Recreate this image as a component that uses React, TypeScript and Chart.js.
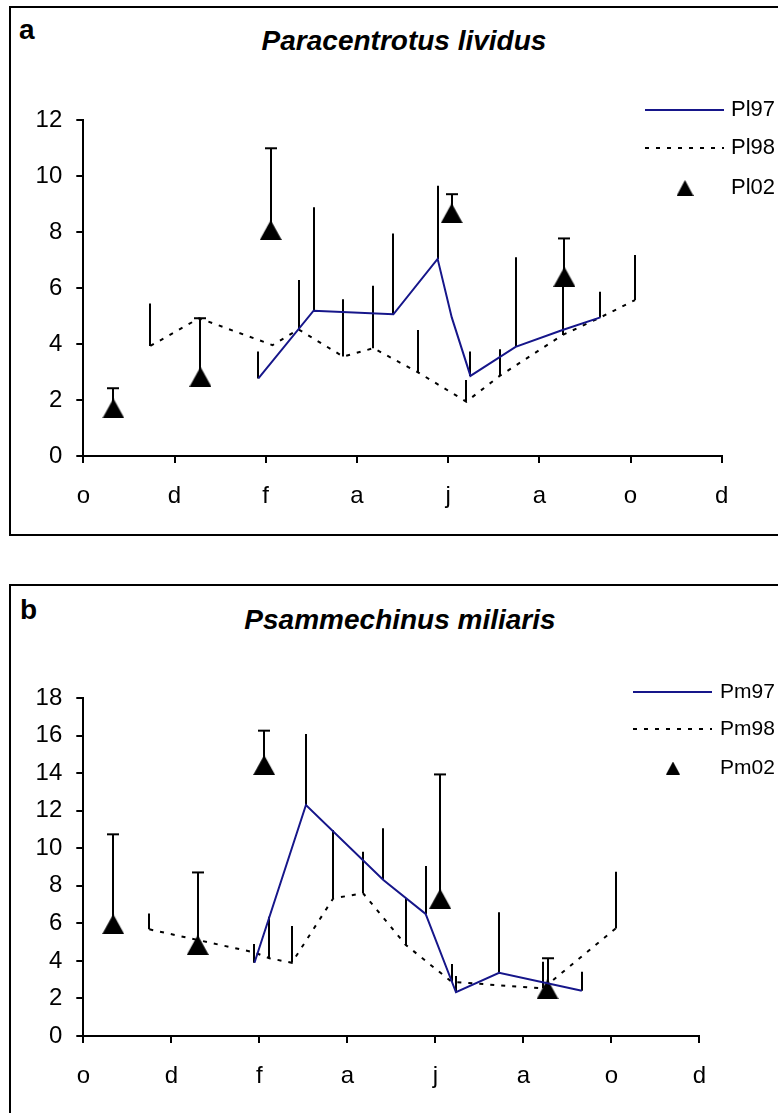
import React, { useEffect, useRef } from 'react';
import { Chart, registerables } from 'chart.js';

Chart.register(...registerables);

// ---- axis ticks (months) ----
const monthTicks = [0, 2, 4, 6, 8, 10, 12, 14];
const monthLabels = ['o', 'd', 'f', 'a', 'j', 'a', 'o', 'd'];

// ---- Panel a: Paracentrotus lividus ----
const pl97X = [3.84, 5.05, 6.8, 7.77, 8.08, 8.49, 9.48, 10.51, 11.34];
const pl97Y = [2.77, 5.19, 5.06, 7.04, 4.95, 2.86, 3.9, 4.5, 4.95];
const pl97Up = [3.73, 8.88, 7.95, 9.65, null, 3.73, 7.1, null, 5.87];

const pl98X = [1.47, 2.54, 4.15, 4.72, 5.7, 6.36, 7.35, 8.4, 9.13, 10.51, 11.34, 12.1];
const pl98Y = [3.93, 4.92, 3.96, 4.52, 3.55, 3.85, 2.98, 1.94, 2.86, 4.32, 4.95, 5.57];
const pl98Up = [5.45, null, null, 6.29, 5.6, 6.08, 4.5, 2.71, 3.81, 6.4, null, 7.18];

const pl02X = [0.66, 2.57, 4.11, 8.08, 10.55];
const pl02Y = [1.7, 2.83, 8.07, 8.67, 6.4];
const pl02Up = [2.42, 4.92, 10.99, 9.35, 7.77];

// ---- Panel b: Psammechinus miliaris ----
const pm97X = [3.89, 5.06, 6.82, 7.78, 8.47, 9.45, 11.33];
const pm97Y = [3.9, 12.3, 8.31, 6.5, 2.33, 3.37, 2.41];
const pm97Up = [4.9, 16.08, 11.06, 9.05, 3.19, 6.59, 3.42];

const pm98X = [1.5, 3.89, 4.23, 4.74, 5.68, 6.36, 7.33, 8.37, 9.45, 10.45, 12.1];
const pm98Y = [5.68, 4.45, 4.14, 3.9, 7.33, 7.6, 4.85, 2.89, 2.7, 2.54, 5.73];
const pm98Up = [6.53, null, 6.35, 5.86, 10.97, 9.81, 7.33, 3.83, null, 3.96, 8.75];

const pm02X = [0.68, 2.6, 4.11, 8.11, 10.55];
const pm02Y = [5.96, 4.85, 14.43, 7.31, 2.49];
const pm02Up = [10.74, 8.71, 16.26, 13.93, 4.14];

const FONT = '"Liberation Sans", Arial, Helvetica, sans-serif';
const BLUE = '#16168a';

function pts(xs: number[], ys: number[]) {
  return xs.map((x, i) => ({ x, y: ys[i] }));
}

function makeTriangle(w: number, h: number) {
  const c = document.createElement('canvas');
  c.width = w;
  c.height = h;
  const g = c.getContext('2d')!;
  g.fillStyle = '#000';
  g.beginPath();
  g.moveTo(w / 2, 0);
  g.lineTo(w, h);
  g.lineTo(0, h);
  g.closePath();
  g.fill();
  return c;
}

const errorBarPlugin = {
  id: 'errorBars',
  beforeDatasetsDraw(chart: any) {
    const { ctx } = chart;
    const xs = chart.scales.x;
    const ys = chart.scales.y;
    ctx.save();
    chart.data.datasets.forEach((ds: any) => {
      if (!ds.errUp) return;
      ds.data.forEach((p: any, i: number) => {
        const up = ds.errUp[i];
        if (up == null) return;
        const px = Math.round(xs.getPixelForValue(p.x));
        const py0 = ys.getPixelForValue(p.y);
        const py1 = ys.getPixelForValue(up);
        ctx.strokeStyle = '#000';
        ctx.lineWidth = 2;
        ctx.setLineDash([]);
        ctx.beginPath();
        ctx.moveTo(px, py0);
        ctx.lineTo(px, py1);
        ctx.stroke();
        if (ds.errCap) {
          ctx.beginPath();
          ctx.moveTo(px - 6, py1);
          ctx.lineTo(px + 6, py1);
          ctx.stroke();
        }
      });
    });
    ctx.restore();
  },
};

function makeLegendPlugin(spec: any) {
  return {
    id: 'sideLegend',
    afterDraw(chart: any) {
      const ctx = chart.ctx;
      ctx.save();
      chart.data.datasets.forEach((ds: any, i: number) => {
        const yy = spec.rows[i];
        if (ds.showLine) {
          ctx.strokeStyle = ds.borderColor;
          ctx.lineWidth = ds.borderWidth;
          ctx.setLineDash(ds.borderDash || []);
          ctx.beginPath();
          ctx.moveTo(spec.x0, yy);
          ctx.lineTo(spec.x1, yy);
          ctx.stroke();
        } else {
          const m = spec.marker;
          ctx.drawImage(m, spec.mx - m.width / 2, yy - m.height / 2);
        }
        ctx.setLineDash([]);
        ctx.fillStyle = '#000';
        ctx.font = spec.font;
        ctx.textBaseline = 'middle';
        ctx.textAlign = 'left';
        ctx.fillText(ds.label, spec.tx, yy);
      });
      ctx.restore();
    },
  };
}

function makeConfig(opts: any) {
  const marker = makeTriangle(22, 20);
  return {
    type: 'scatter',
    data: {
      datasets: [
        {
          label: opts.names[0],
          data: pts(opts.l1x, opts.l1y),
          errUp: opts.l1u,
          showLine: true,
          borderColor: BLUE,
          borderWidth: 2,
          pointRadius: 0,
          tension: 0,
        },
        {
          label: opts.names[1],
          data: pts(opts.l2x, opts.l2y),
          errUp: opts.l2u,
          showLine: true,
          borderColor: '#000',
          borderWidth: 2,
          borderDash: [4, 7],
          pointRadius: 0,
          tension: 0,
        },
        {
          label: opts.names[2],
          data: pts(opts.tx, opts.ty),
          errUp: opts.tu,
          errCap: true,
          showLine: false,
          pointStyle: marker,
          pointRadius: 11,
          backgroundColor: '#000',
          borderColor: '#000',
        },
      ],
    },
    options: {
      animation: false,
      responsive: false,
      devicePixelRatio: 1,
      layout: { padding: { left: 0, top: opts.top, right: opts.right, bottom: 0 } },
      plugins: {
        legend: { display: false },
        title: { display: false },
        tooltip: { enabled: false },
      },
      scales: {
        x: {
          type: 'linear',
          min: 0,
          max: 14,
          afterBuildTicks(s: any) {
            s.ticks = monthTicks.map((v) => ({ value: v }));
          },
          afterFit(s: any) {
            s.height = opts.xh;
          },
          ticks: {
            color: '#000',
            font: { family: FONT, size: 24 },
            padding: 19,
            maxRotation: 0,
            autoSkip: false,
            callback: (v: number) => monthLabels[monthTicks.indexOf(v)],
          },
          grid: { drawOnChartArea: false, drawTicks: true, tickLength: 7, color: '#000', lineWidth: 2 },
          border: { display: true, color: '#000', width: 2 },
        },
        y: {
          type: 'linear',
          min: 0,
          max: opts.ymax,
          afterFit(s: any) {
            s.width = 83.3;
          },
          ticks: {
            stepSize: 2,
            color: '#000',
            font: { family: FONT, size: 24 },
            padding: 14,
          },
          grid: { drawOnChartArea: false, drawTicks: true, tickLength: 7, color: '#000', lineWidth: 2 },
          border: { display: true, color: '#000', width: 2 },
        },
      },
    },
    plugins: [errorBarPlugin, makeLegendPlugin(opts.legend)],
  };
}

export default function App() {
  const refA = useRef<HTMLCanvasElement>(null);
  const refB = useRef<HTMLCanvasElement>(null);

  useEffect(() => {
    const cA = new Chart(
      refA.current!,
      makeConfig({
        names: ['Pl97', 'Pl98', 'Pl02'],
        l1x: pl97X, l1y: pl97Y, l1u: pl97Up,
        l2x: pl98X, l2y: pl98Y, l2u: pl98Up,
        tx: pl02X, ty: pl02Y, tu: pl02Up,
        ymax: 12,
        top: 120,
        right: 778 - 721.7,
        xh: 540 - 456,
        legend: {
          rows: [110, 148, 188],
          x0: 645, x1: 724, tx: 731, mx: 685,
          font: `22px ${FONT}`,
          marker: makeTriangle(17, 16),
        },
      }) as any
    );
    const cB = new Chart(
      refB.current!,
      makeConfig({
        names: ['Pm97', 'Pm98', 'Pm02'],
        l1x: pm97X, l1y: pm97Y, l1u: pm97Up,
        l2x: pm98X, l2y: pm98Y, l2u: pm98Up,
        tx: pm02X, ty: pm02Y, tu: pm02Up,
        ymax: 18,
        top: 118,
        right: 778 - 699.3,
        xh: 533 - 456,
        legend: {
          rows: [112, 149, 188],
          x0: 633, x1: 712, tx: 720, mx: 673,
          font: `21px ${FONT}`,
          marker: makeTriangle(14, 13),
        },
      }) as any
    );
    return () => {
      cA.destroy();
      cB.destroy();
    };
  }, []);

  const box = (top: number, height: number): React.CSSProperties => ({
    position: 'absolute',
    left: 9,
    top,
    width: 900,
    height,
    border: '2px solid #000',
    boxSizing: 'border-box',
  });
  const title = (cx: number, top: number): React.CSSProperties => ({
    position: 'absolute',
    left: cx,
    top,
    transform: 'translateX(-50%)',
    whiteSpace: 'nowrap',
    font: `italic bold 28px ${FONT}`,
    lineHeight: '28px',
    color: '#000',
  });
  const letter = (left: number, top: number): React.CSSProperties => ({
    position: 'absolute',
    left,
    top,
    font: `bold 28px ${FONT}`,
    lineHeight: '28px',
    color: '#000',
  });

  return (
    <div style={{ position: 'fixed', left: 0, top: 0, width: '100vw', height: '100vh', overflow: 'hidden', background: '#fff' }}>
      <div style={box(6, 530)} />
      <div style={box(584, 700)} />
      <div style={letter(19, 16)}>a</div>
      <div style={letter(20, 596)}>b</div>
      <div style={title(404, 27)}>Paracentrotus lividus</div>
      <div style={title(400, 606)}>Psammechinus miliaris</div>
      <canvas ref={refA} width={778} height={540} style={{ position: 'absolute', left: 0, top: 0 }} />
      <canvas ref={refB} width={778} height={533} style={{ position: 'absolute', left: 0, top: 580 }} />
    </div>
  );
}
